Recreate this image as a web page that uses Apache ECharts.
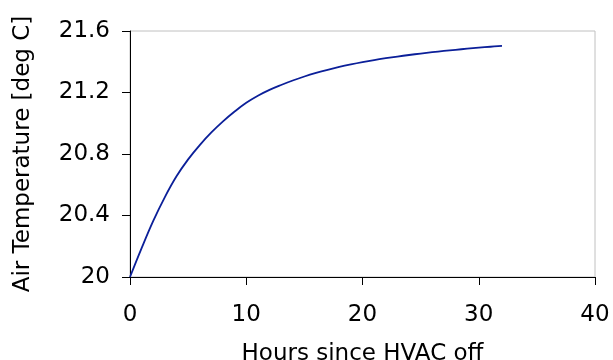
<!DOCTYPE html>
<html>
<head>
<meta charset="utf-8">
<script src="https://cdn.jsdelivr.net/npm/echarts@6/dist/echarts.min.js"></script>
<style>
html,body{margin:0;padding:0;background:#fff;}
#chart{width:613px;height:360px;}
</style>
</head>
<body>
<div id="chart"></div>
<script>
var hours = [0,1,2,3,4,5,6,7,8,9,10,11,12,13,14,15,16,17,18,19,20,21,22,23,24,25,26,27,28,29,30,31,32];
var airTemp = [20.000,20.188,20.365,20.520,20.655,20.765,20.858,20.940,21.012,21.076,21.133,21.179,21.217,21.249,21.278,21.304,21.327,21.3475,21.366,21.3825,21.3975,21.411,21.423,21.434,21.444,21.4533,21.462,21.4701,21.4777,21.4848,21.4914,21.4976,21.5034];
var xTitle = 'Hours since HVAC off';
var yTitle = 'Air Temperature [deg C]';

var chart = echarts.init(document.getElementById('chart'), null, {renderer:'canvas'});
var font = 'DejaVu Sans';
chart.setOption({
  animation:false,
  backgroundColor:'#ffffff',
  grid:{left:130,right:18,top:31,bottom:83,show:true,borderColor:'#c0c0c0',borderWidth:1,containLabel:false,outerBoundsMode:'none'},
  xAxis:{
    type:'value',min:0,max:40,interval:10,
    name:xTitle,nameLocation:'middle',nameGap:66,
    nameTextStyle:{fontFamily:font,fontSize:23,color:'#000'},
    axisLine:{show:true,onZero:false,lineStyle:{color:'#000',width:1}},
    axisTick:{show:true,length:8,lineStyle:{color:'#000'}},
    axisLabel:{fontFamily:font,fontSize:23,color:'#000',margin:27},
    splitLine:{show:false}
  },
  yAxis:{
    type:'value',min:20,max:21.6,interval:0.4,
    name:yTitle,nameLocation:'middle',nameGap:95,
    nameTextStyle:{fontFamily:font,fontSize:23,color:'#000'},
    axisLine:{show:true,onZero:false,lineStyle:{color:'#000',width:1}},
    axisTick:{show:true,length:8,lineStyle:{color:'#000'}},
    axisLabel:{fontFamily:font,fontSize:23,color:'#000',margin:20},
    splitLine:{show:false}
  },
  series:[{
    type:'line',
    data:hours.map(function(h,i){return [h,airTemp[i]];}),
    smooth:0.4,showSymbol:false,symbol:'none',
    lineStyle:{color:'#0b1f99',width:1.8}
  }]
});
</script>
</body>
</html>
